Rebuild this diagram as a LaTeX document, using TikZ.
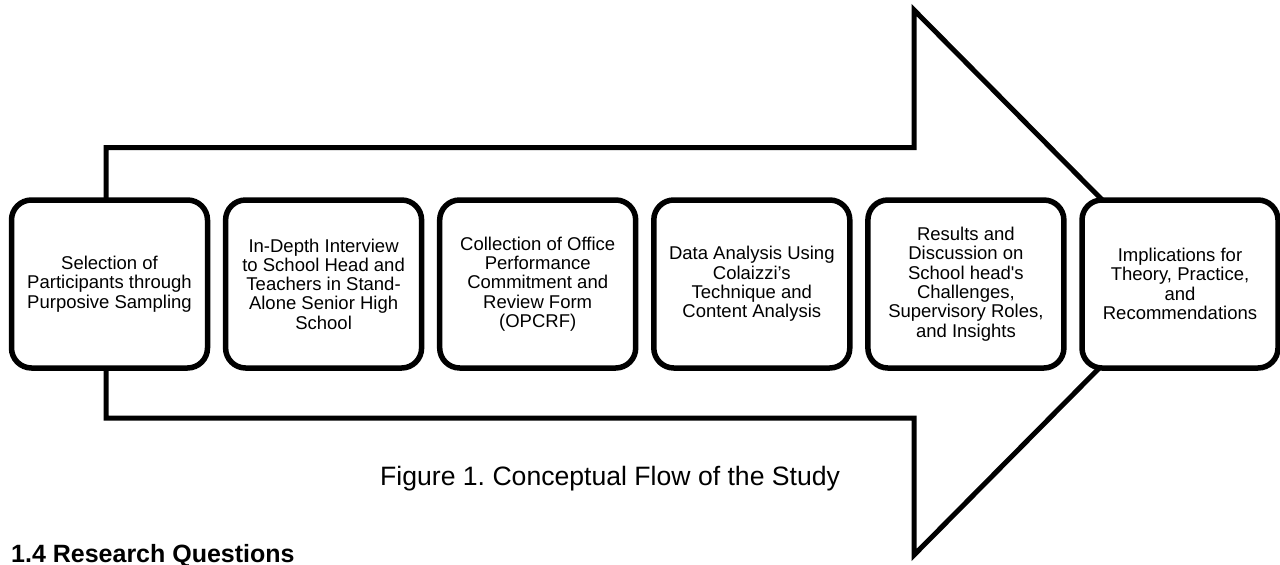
\documentclass[tikz,border=0pt]{standalone}
\usepackage{fontspec}
\setmainfont{Liberation Sans}
\frenchspacing
\begin{document}
\begin{tikzpicture}[x=1pt,y=-1pt,
  boxstyle/.style={draw, line width=5.5pt, rounded corners=20pt, fill=white,
    minimum width=196pt, minimum height=168pt, inner sep=0pt, align=center,
    font=\fontsize{18.5}{19.3}\selectfont},
  arrowline/.style={line width=5pt, line join=miter}]
\useasboundingbox (0,0) rectangle (1280,565);
% big arrow
\coordinate (a1) at (106,147.5);
\coordinate (a2) at (914,147.5);
\coordinate (a3) at (914,10);
\coordinate (tip) at (1184,282.5);
\coordinate (a5) at (914,555);
\coordinate (a6) at (914,418);
\coordinate (a7) at (106,418);
\draw[arrowline] (a1) -- (a2) -- (a3) -- (tip) -- (a5) -- (a6) -- (a7) -- cycle;
% steps
\node[boxstyle] (b1) at (109.5,284) {Selection of\\Participants through\\Purposive Sampling};
\node[boxstyle] (b2) at (323.6,284) {In-Depth Interview\\to School Head and\\Teachers in Stand-\\Alone Senior High\\School};
\node[boxstyle] (b3) at (537.7,284) {Collection of Office\\Performance\\Commitment and\\Review Form\\(OPCRF)};
\node[boxstyle] (b4) at (751.8,284) {Data Analysis Using\\Colaizzi’s\\Technique and\\Content Analysis};
\node[boxstyle] (b5) at (965.9,284) {Results and\\Discussion on\\School head\textquotesingle s\\Challenges,\\Supervisory Roles,\\and Insights};
\node[boxstyle] (b6) at (1180,284) {Implications for\\Theory, Practice,\\and\\Recommendations};
% caption and heading
\node[anchor=base west, inner sep=0pt, font=\fontsize{26.6}{30}\selectfont] (cap) at (380,485) {Figure 1. Conceptual Flow of the Study};
\node[anchor=base west, inner sep=0pt, font=\fontsize{25}{28}\selectfont\bfseries] (head) at (11,562) {1.4 Research Questions};
\end{tikzpicture}
\end{document}
